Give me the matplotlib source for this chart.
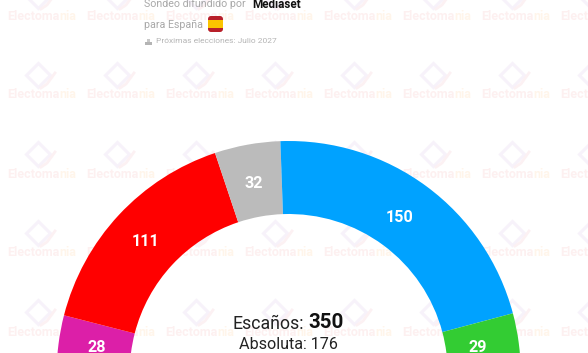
import numpy as np
import matplotlib.pyplot as plt
from matplotlib.patches import FancyBboxPatch, Rectangle

seats = [28, 111, 32, 150, 29]
colors = ["#dc1fa8", "#ff0000", "#bbbbbb", "#00a2ff", "#33cc33"]

plt.rcParams["font.family"] = "Roboto"

# everything in picture pixels, y measured from the bottom
W, H = 588, 353
fig = plt.figure(figsize=(W / 100, H / 100), dpi=100)
ax = fig.add_axes([0, 0, 1, 1])
ax.set_xlim(0, W)
ax.set_ylim(0, H)


def py(y):
    return H - y


# watermark grid, second colour starts where the first word part ends
probe = ax.text(0, 0, "Electoma", fontsize=9, fontweight="bold")
part_w = probe.get_window_extent(fig.canvas.get_renderer()).width
probe.remove()

for wx in range(7, 600, 79):
    for wy in range(16, 353, 79):
        ax.text(wx, py(wy), "Electoma", color="#fdf0f0", fontsize=9, fontweight="bold",
                va="center", ha="left", zorder=1)
        ax.text(wx + part_w + 0.5, py(wy), "nia", color="#fff5ea", fontsize=9, fontweight="bold",
                va="center", ha="left", zorder=1)
        ax.plot(wx + 31, py(wy - 20), marker="D", ms=12.5, mfc="none", mec="#f7f2fa", mew=2.2, zorder=1)
        ax.plot([wx + 34, wx + 40, wx + 48], py(np.array([wy - 7, wy - 11, wy - 22])),
                color="#fcf1f3", lw=2, zorder=1)

# hemicycle
cx, cy = 288.7, py(373)
R = 232
r_in = 159
ax.pie(seats + [sum(seats)], colors=colors + ["none"], startangle=180, counterclock=False,
       center=(cx, cy), radius=R, wedgeprops={"width": R - r_in, "linewidth": 0}, frame=True)

# seat labels in the middle of each band
label_dx = [2, 0, 0, -5, -5]
label_dy = [0, -2, -3, -2, 0]
done = 0
for s, dx, dy in zip(seats, label_dx, label_dy):
    ang = np.pi * (done + s / 2) / sum(seats)
    rm = (R + r_in) / 2
    x = cx - rm * np.cos(ang) + dx
    y = cy + rm * np.sin(ang) + dy
    y = max(y, py(347))
    ax.text(x, y, str(s), color="white", fontsize=11.6, fontweight="bold",
            ha="center", va="center", zorder=5)
    done += s

# centre text
ax.text(268.5, py(324), "Escaños:", color="#222222", fontsize=12.8, ha="center", va="center", zorder=5)
ax.text(326, py(323), "350", color="#111111", fontsize=14.8, fontweight="bold", ha="center", va="center", zorder=5)
ax.text(288, py(344.5), "Absoluta: 176", color="#222222", fontsize=11.6, ha="center", va="center", zorder=5)

# header
ax.text(144, py(4), "Sondeo difundido por", color="#a8a8a8", fontsize=7.7, ha="left", va="center", zorder=5)
ax.text(252, py(4), "Mediaset", color="#111111", fontsize=8.4, fontweight="bold", ha="left", va="center", zorder=5)
ax.text(144, py(25), "para España", color="#a8a8a8", fontsize=7.7, ha="left", va="center", zorder=5)
ax.text(156, py(41), "Próximas elecciones: Julio 2027", color="#b4b4b4", fontsize=6, ha="left", va="center", zorder=5)

# little flag
ax.add_patch(FancyBboxPatch((208, py(32)), 15, 16, boxstyle="round,pad=0,rounding_size=3",
                            fc="#b8202a", ec="none", zorder=5))
ax.add_patch(Rectangle((208, py(28)), 15, 8, fc="#fbc400", ec="none", zorder=6))

# ballot icon
ax.add_patch(Rectangle((145, py(44.5)), 6.5, 3, fc="#b4b4b4", ec="none", zorder=5))
ax.add_patch(Rectangle((147, py(41.5)), 3, 3, fc="#c8c8c8", ec="none", zorder=5))

ax.set_xlim(0, W)
ax.set_ylim(0, H)
ax.set_aspect("auto")
ax.axis("off")

fig.savefig("out.png", dpi=100)
